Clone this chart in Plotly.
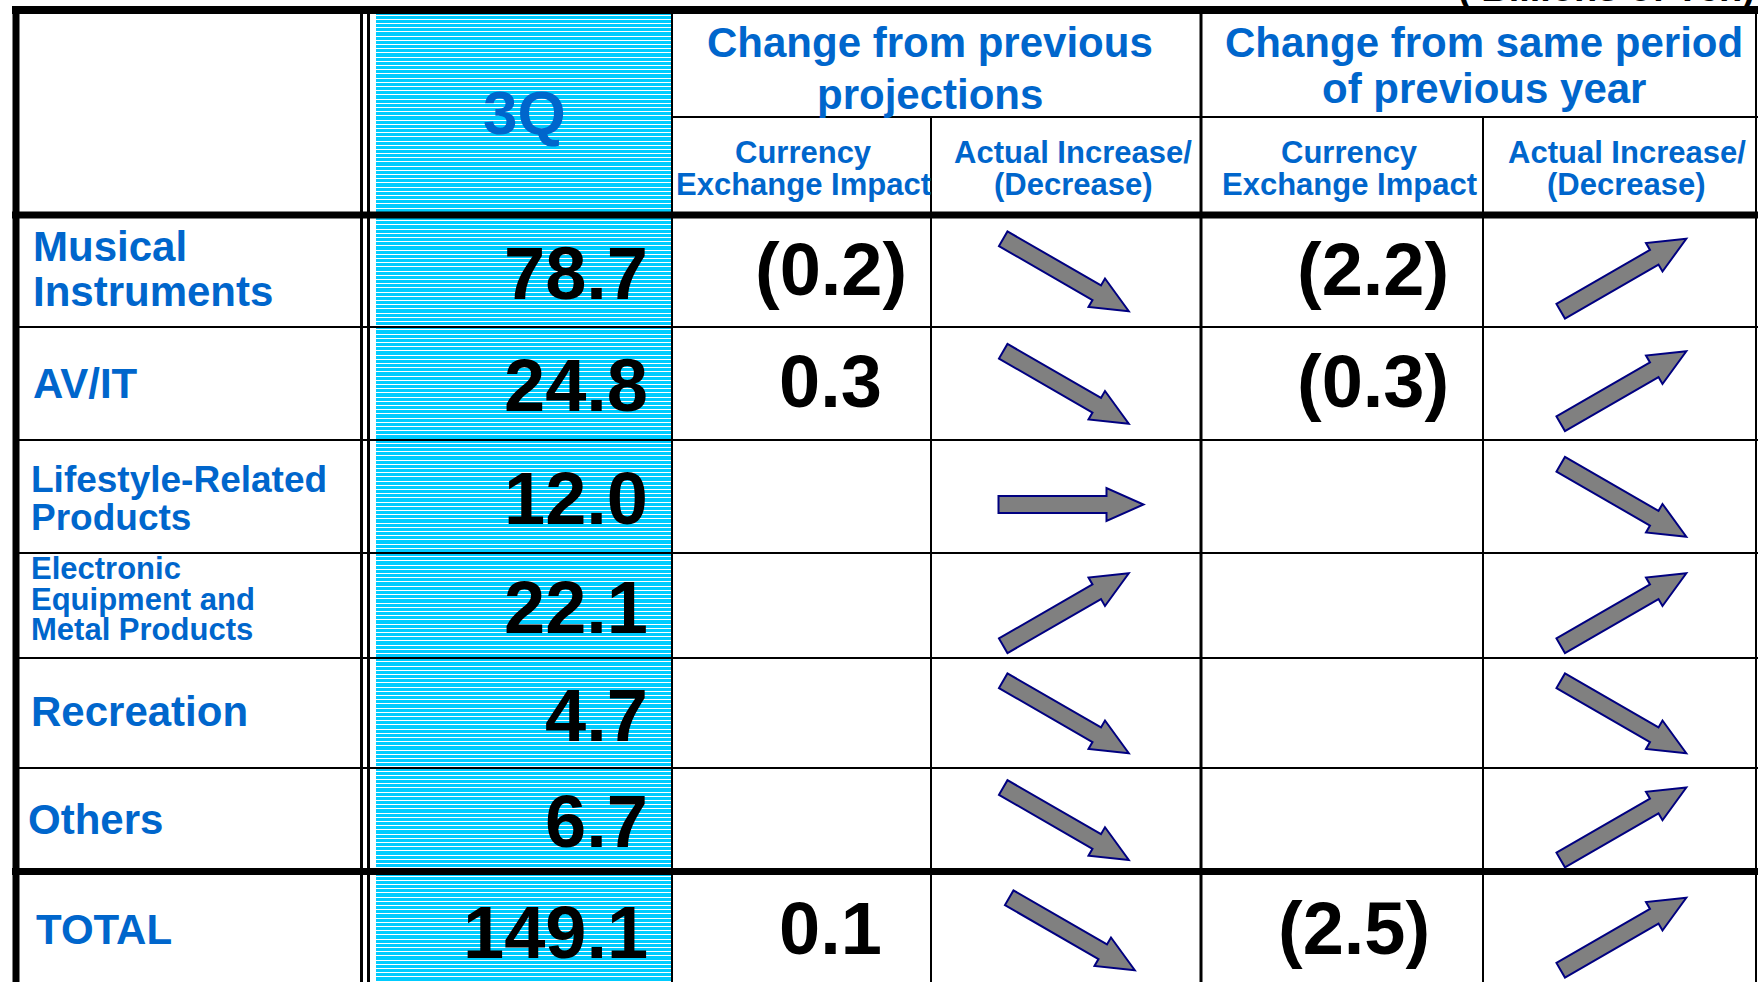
import math
import plotly.graph_objects as go

# ---------------- data ----------------
segments = ["Musical<br>Instruments", "AV/IT", "Lifestyle-Related<br>Products",
            "Electronic<br>Equipment and<br>Metal Products", "Recreation", "Others", "TOTAL"]
sales_3q = [78.7, 24.8, 12.0, 22.1, 4.7, 6.7, 149.1]
fx_vs_projection = [-0.2, 0.3, None, None, None, None, 0.1]
trend_vs_projection = ["down", "down", "flat", "up", "down", "down", "down"]
fx_vs_prev_year = [-2.2, -0.3, None, None, None, None, -2.5]
trend_vs_prev_year = ["up", "up", "down", "up", "down", "up", "up"]
period_label = "3Q"
group_headers = ["Change from previous<br>projections", "Change from same period<br>of previous year"]
sub_headers = ["Currency<br>Exchange Impact", "Actual Increase/<br>(Decrease)"]
unit_label = "( Billions of Yen)"

# ---------------- style / layout ----------------
W, H = 1758, 982
FONT = "Liberation Sans, Arial, Helvetica, sans-serif"
BLUE_TXT = "#0066CC"
CYAN = "#00CCFF"
ARROW_FILL = "#808080"
ARROW_EDGE = "#000080"

col_x = [16, 364.5, 672, 931, 1201, 1483, 1756]
row_y = [215, 327, 440, 553, 658, 768, 871.5, 992]
sub_y = 117
blue_x0, blue_x1 = 376, 672

label_sizes = [42, 42, 37, 31, 42, 42, 42]
label_spacing = [45, 0, 37.5, 30.5, 0, 0, 0]
label_offset = [-2.5, 0, 2, -6.5, -2, 0, -1]
label_x = [31, 31, 29, 29, 29, 26, 34]

fig = go.Figure()
shapes = []
ann = []


def line(x0, y0, x1, y1, w, color="black"):
    shapes.append(dict(type="line", xref="x", yref="y", x0=x0, y0=y0, x1=x1, y1=y1,
                       line=dict(color=color, width=w), layer="above"))


def txt(x, y, s, size, color, xanchor="center"):
    ann.append(dict(x=x, y=y, xref="x", yref="y", text=s, showarrow=False,
                    font=dict(family=FONT, size=size, color=color, weight="bold"),
                    xanchor=xanchor, yanchor="middle"))


# cyan striped column
shapes.append(dict(type="rect", xref="x", yref="y", x0=blue_x0, x1=blue_x1, y0=14, y1=H,
                   fillcolor=CYAN, line=dict(width=0), layer="below"))
sx, sy = [], []
yy = 15.0
while yy < H:
    py = math.floor(yy) + 0.5
    sx += [blue_x0, blue_x1, None]
    sy += [py, py, None]
    yy += 4.2
fig.add_trace(go.Scatter(x=sx, y=sy, mode="lines", line=dict(color="white", width=1),
                         hoverinfo="skip", showlegend=False))

# grid lines
for y in row_y[1:6]:
    line(16, y, W, y, 2)
line(blue_x1, sub_y, W, sub_y, 2)
line(col_x[2], 10, col_x[2], H, 2)
line(col_x[3], sub_y, col_x[3], H, 2)
line(col_x[4], 10, col_x[4], H, 3)
line(col_x[5], sub_y, col_x[5], H, 2)
line(col_x[6], 10, col_x[6], H, 2)
line(361.5, 6, 361.5, H, 3)
line(368.5, 6, 368.5, H, 3)
line(12, 10, W, 10, 8)
line(16, 6, 16, H, 7)
line(12, row_y[0], W, row_y[0], 7)
line(12, row_y[6], W, row_y[6], 7)

# unit label (partly cut off at the top)
ann.append(dict(x=1757, y=11, xref="x", yref="y", text=unit_label, showarrow=False,
                font=dict(family=FONT, size=38, color="black", weight="bold"),
                xanchor="right", yanchor="bottom"))

# headers
txt((blue_x0 + blue_x1) / 2, 112, period_label, 62, BLUE_TXT)
g1 = group_headers[0].split("<br>")
txt(930, 42, g1[0], 42, BLUE_TXT)
txt(930, 94, g1[1], 42, BLUE_TXT)
g2 = group_headers[1].split("<br>")
txt(1484, 42, g2[0], 42, BLUE_TXT)
txt(1484, 88, g2[1], 42, BLUE_TXT)
for ci in range(2, 6):
    cx = (col_x[ci] + col_x[ci + 1]) / 2 + (2 if ci == 2 else 7)
    parts = sub_headers[(ci - 2) % 2].split("<br>")
    txt(cx, 152, parts[0], 31, BLUE_TXT)
    txt(cx, 184, parts[1], 31, BLUE_TXT)


def fmt(v):
    return f"({abs(v):.1f})" if v < 0 else f"{v:.1f}"


def arrow_path(cx, cy, trend):
    ang = {"up": -30.0, "down": 30.0, "flat": 0.0}[trend]
    a = math.radians(ang)
    L, sw, hw, hl = 145, 8.5, 16.5, 37
    pts = [(-L / 2, -sw), (L / 2 - hl, -sw), (L / 2 - hl, -hw), (L / 2, 0),
           (L / 2 - hl, hw), (L / 2 - hl, sw), (-L / 2, sw)]
    out = []
    for u, v in pts:
        x = cx + u * math.cos(a) - v * math.sin(a)
        y = cy + u * math.sin(a) + v * math.cos(a)
        out.append(f"{x:.2f},{y:.2f}")
    return "M" + " L".join(out) + " Z"


for i, seg in enumerate(segments):
    y0, y1 = row_y[i], row_y[i + 1]
    is_total = i == len(segments) - 1
    cy = (y0 + y1) / 2 if not is_total else 930
    # label
    parts = seg.split("<br>")
    n = len(parts)
    for k, p in enumerate(parts):
        ly = cy + label_offset[i] + (k - (n - 1) / 2) * label_spacing[i]
        txt(label_x[i], ly, p, label_sizes[i], BLUE_TXT, xanchor="left")
    # 3Q value
    txt(650, cy + 2, f"{sales_3q[i]:.1f}", 74, "black", xanchor="right")
    # fx impacts
    if fx_vs_projection[i] is not None:
        txt((col_x[2] + col_x[3]) / 2 + 29, cy - 2, fmt(fx_vs_projection[i]), 74, "black")
    if fx_vs_prev_year[i] is not None:
        dx = 12 if is_total else 31
        txt((col_x[4] + col_x[5]) / 2 + dx, cy - 2, fmt(fx_vs_prev_year[i]), 74, "black")
    # arrows
    for ci, tr in ((3, trend_vs_projection[i]), (5, trend_vs_prev_year[i])):
        acx = (col_x[ci] + col_x[ci + 1]) / 2 + (4 if ci == 5 else 0)
        acy = cy + 4
        if tr == "flat":
            acx += 5
            acy += 4
        if is_total and ci == 3:
            acx += 6
        shapes.append(dict(type="path", xref="x", yref="y", path=arrow_path(acx, acy, tr),
                           fillcolor=ARROW_FILL, line=dict(color=ARROW_EDGE, width=2),
                           layer="above"))

fig.update_layout(
    width=W, height=H, autosize=False,
    margin=dict(l=0, r=0, t=0, b=0, pad=0),
    paper_bgcolor="white", plot_bgcolor="white",
    xaxis=dict(range=[0, W], visible=False, fixedrange=True),
    yaxis=dict(range=[H, 0], visible=False, fixedrange=True),
    shapes=shapes, annotations=ann, showlegend=False,
)

fig.write_html("out.html", config={"displayModeBar": False},
               post_script="document.body.style.margin='0px';document.body.style.overflow='hidden';")
